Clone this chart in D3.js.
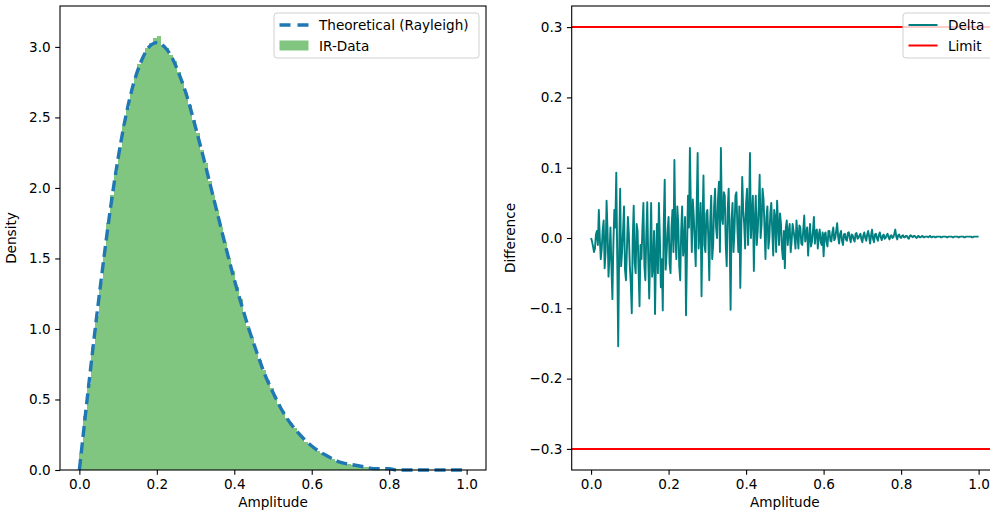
<!DOCTYPE html>
<html>
<head>
<meta charset="utf-8">
<script src="https://cdn.jsdelivr.net/npm/d3@7"></script>
<style>
  body { margin: 0; background: white; }
  svg { display: block; }
  text { font-family: "DejaVu Sans", sans-serif; }
</style>
</head>
<body>
<div id="container"></div>
<script>
// ---- data ----

// histogram bars (density), bins of 0.01 starting at amplitude 0
let binWidth = 0.01;
let histDensity = [0.12, 0.38, 0.61, 0.87, 1.09, 1.33, 1.53, 1.75, 1.95, 2.11,
  2.29, 2.44, 2.57, 2.70, 2.78, 2.88, 2.93, 2.99, 3.03, 3.06,
  3.08, 3.01, 2.99, 2.94, 2.90, 2.82, 2.76, 2.67, 2.59, 2.48,
  2.39, 2.27, 2.18, 2.05, 1.95, 1.84, 1.72, 1.62, 1.50, 1.41,
  1.30, 1.21, 1.11, 1.02, 0.94, 0.85, 0.78, 0.71, 0.64, 0.58,
  0.52, 0.47, 0.42, 0.37, 0.33, 0.30, 0.26, 0.23, 0.20, 0.18,
  0.156, 0.136, 0.119, 0.103, 0.089, 0.077, 0.066, 0.057, 0.049, 0.042,
  0.036, 0.030, 0.026, 0.022, 0.018, 0.015, 0.013, 0.010, 0.009, 0.007,
  0.006, 0.005, 0.004, 0.003, 0.002];

// theoretical curve, sampled every 0.02 of amplitude
let theoryStep = 0.02;
let theoryDensity = [0, 0.50, 0.98, 1.43, 1.85, 2.21, 2.51, 2.74, 2.90, 3.00,
  3.03, 3.00, 2.92, 2.79, 2.63, 2.43, 2.22, 2.00, 1.78, 1.56,
  1.35, 1.16, 0.98, 0.82, 0.67, 0.55, 0.44, 0.35, 0.28, 0.22,
  0.17, 0.13, 0.10, 0.07, 0.05, 0.04, 0.03, 0.02, 0.01, 0.01,
  0.01, 0, 0, 0, 0, 0, 0, 0, 0, 0, 0];

// delta between data and theory, sampled every 0.0025 of amplitude
let deltaStep = 0.0025;
let deltaValues = [
  0.000, -0.005, -0.012, -0.020, -0.015, 0.005, 0.010, -0.010, 0.040, 0.000,
  -0.030, -0.015, 0.012, 0.025, -0.043, -0.020, 0.053, 0.010, -0.055, -0.025,
  0.015, -0.040, -0.087, -0.010, 0.040, 0.015, 0.093, -0.030, -0.154, -0.020,
  0.070, -0.040, -0.020, 0.010, 0.045, -0.045, -0.060, -0.015, 0.030, 0.005,
  -0.040, -0.065, -0.107, 0.000, 0.046, -0.035, -0.050, 0.020, 0.010, -0.045,
  -0.097, -0.010, -0.030, 0.015, 0.050, -0.040, -0.060, 0.005, 0.051, -0.030,
  -0.086, -0.020, 0.050, -0.055, -0.040, 0.010, -0.108, -0.025, 0.020, -0.050,
  0.050, 0.000, -0.070, -0.030, -0.103, 0.020, 0.083, -0.045, -0.020, 0.010,
  0.030, -0.035, -0.050, 0.015, 0.040, -0.020, 0.111, 0.005, -0.030, 0.045,
  0.020, -0.040, -0.060, 0.010, 0.045, -0.025, -0.010, 0.030, -0.110, -0.020,
  0.060, 0.015, 0.128, 0.040, -0.020, 0.055, 0.030, -0.005, -0.040, 0.045,
  0.121, -0.015, 0.010, 0.050, -0.083, 0.020, 0.089, -0.010, -0.020, 0.035,
  0.040, 0.000, -0.060, 0.025, 0.060, -0.030, -0.010, 0.045, 0.070, 0.015,
  0.000, 0.055, 0.080, -0.020, 0.128, 0.030, 0.020, 0.065, 0.060, -0.010,
  -0.040, 0.040, 0.070, 0.005, -0.102, 0.025, 0.050, -0.020, 0.010, 0.060,
  0.065, 0.015, -0.020, 0.045, -0.071, 0.010, 0.087, 0.040, 0.020, -0.015,
  0.050, 0.070, -0.010, 0.030, 0.121, 0.000, 0.030, 0.060, -0.047, 0.025,
  0.060, -0.010, 0.010, 0.045, 0.090, 0.000, 0.020, 0.070, 0.055, 0.015,
  -0.030, 0.030, 0.045, -0.015, 0.000, 0.035, 0.050, 0.010, -0.025, 0.040,
  0.030, -0.020, 0.053, 0.020, -0.010, 0.035, 0.020, -0.015, -0.030, 0.010,
  -0.043, 0.015, 0.025, -0.010, 0.010, 0.020, -0.020, -0.005, 0.020, 0.010,
  0.000, -0.015, 0.025, 0.005, -0.015, 0.018, 0.015, -0.008, -0.010, 0.012,
  0.032, -0.005, 0.005, 0.015, -0.025, 0.000, 0.020, -0.012, -0.005, 0.010,
  0.030, -0.008, 0.010, 0.012, -0.015, 0.004, 0.012, -0.006, -0.010, 0.008,
  -0.026, 0.005, 0.008, -0.006, -0.012, 0.010, 0.010, -0.004, -0.005, 0.008,
  0.015, -0.003, 0.000, 0.010, 0.021, 0.002, -0.008, 0.006, 0.010, -0.004,
  -0.010, 0.005, 0.006, -0.002, -0.004, 0.007, 0.008, 0.000, -0.006, 0.005,
  0.004, -0.002, -0.005, 0.006, 0.007, -0.001, 0.000, 0.004, 0.006, -0.002,
  -0.006, 0.004, 0.008, 0.000, -0.004, 0.005, 0.010, 0.002, -0.008, 0.004,
  0.012, -0.001, -0.006, 0.005, 0.006, 0.000, -0.004, 0.004, 0.008, 0.001,
  -0.003, 0.003, 0.005, -0.001, 0.000, 0.004, 0.006, 0.001, -0.002, 0.003,
  0.004, 0.000, 0.001, 0.006, 0.012, 0.002, -0.002, 0.004, 0.005, 0.001,
  0.000, 0.003, 0.004, 0.001, 0.001, 0.003, 0.003, 0.000, -0.001, 0.003,
  0.004, 0.002, 0.001, 0.003, 0.003, 0.001, 0.000, 0.002, 0.003, 0.001,
  0.001, 0.002, 0.003, 0.001, 0.001, 0.002, 0.002, 0.002, 0.001, 0.002,
  0.003, 0.001, 0.001, 0.002, 0.002, 0.001, 0.001, 0.002, 0.002, 0.002,
  0.002, 0.001, 0.001, 0.002, 0.002, 0.002, 0.002, 0.001, 0.001, 0.002,
  0.002, 0.002, 0.002, 0.001, 0.001, 0.002, 0.002, 0.002, 0.002, 0.001,
  0.001, 0.002, 0.002, 0.002, 0.002, 0.001, 0.001, 0.002, 0.002, 0.002,
  0.002, 0.002, 0.002, 0.001, 0.001, 0.002, 0.002, 0.002, 0.002, 0.002,
  0.002];

let limitValues = [0.3, -0.3];
let xTicks = [0, 0.2, 0.4, 0.6, 0.8, 1.0];
let leftYTicks = [0, 0.5, 1.0, 1.5, 2.0, 2.5, 3.0];
let rightYTicks = [-0.3, -0.2, -0.1, 0, 0.1, 0.2, 0.3];
let leftYMax = 3.29;

// ---- layout ----
let w = 990;
let h = 516;
let fontSize = 13.6;
let tick = 4.8;

let viz = d3.select("#container")
  .append("svg")
  .attr("width", w)
  .attr("height", h);

function drawAxes(g, x, y, xt, yt, xLabel, yLabel, yLabelX) {
  let xr = x.range(), yr = y.range();
  let xa = g.append("g")
    .attr("transform", "translate(0," + yr[0] + ")")
    .call(d3.axisBottom(x).tickValues(xt).tickFormat(d3.format(".1f"))
      .tickSize(tick).tickPadding(4.5).tickSizeOuter(0));
  let ya = g.append("g")
    .attr("transform", "translate(" + xr[0] + ",0)")
    .call(d3.axisLeft(y).tickValues(yt).tickFormat(d3.format(".1f"))
      .tickSize(tick).tickPadding(4.5).tickSizeOuter(0));
  [xa, ya].forEach(function(a) {
    a.select(".domain").remove();
    a.selectAll("line").attr("stroke", "#000").attr("stroke-width", 1.1);
    a.selectAll("text")
      .attr("fill", "#000")
      .style("font-size", fontSize + "px")
      .style("font-family", "DejaVu Sans");
  });
  // frame
  g.append("rect")
    .attr("x", xr[0])
    .attr("y", yr[1])
    .attr("width", xr[1] - xr[0])
    .attr("height", yr[0] - yr[1])
    .attr("fill", "none")
    .attr("stroke", "#000")
    .attr("stroke-width", 1.1);

  g.append("text")
    .text(xLabel)
    .attr("x", (xr[0] + xr[1]) / 2)
    .attr("y", 507)
    .attr("text-anchor", "middle")
    .attr("font-size", fontSize + "px");
  g.append("text")
    .text(yLabel)
    .attr("transform", "translate(" + yLabelX + "," + ((yr[0] + yr[1]) / 2) + ") rotate(-90)")
    .attr("text-anchor", "middle")
    .attr("font-size", fontSize + "px");
}

function drawLegend(g, x0, x1, items) {
  g.append("rect")
    .attr("x", x0)
    .attr("y", 13)
    .attr("width", x1 - x0)
    .attr("height", 45)
    .attr("rx", 3)
    .attr("fill", "white")
    .attr("fill-opacity", 0.8)
    .attr("stroke", "#d0d0d0")
    .attr("stroke-width", 1);
  items.forEach(function(it, i) {
    let cy = 25 + i * 20.5;
    if (it.type == "patch") {
      g.append("rect")
        .attr("x", x0 + 5.5).attr("y", cy - 5)
        .attr("width", 29).attr("height", 10)
        .attr("fill", it.color).attr("fill-opacity", 0.6);
    } else {
      g.append("line")
        .attr("x1", x0 + 5.5).attr("x2", x0 + 34.5)
        .attr("y1", cy).attr("y2", cy)
        .attr("stroke", it.color)
        .attr("stroke-width", it.width)
        .attr("stroke-dasharray", it.dash || null);
    }
    g.append("text")
      .text(it.label)
      .attr("x", x0 + 45)
      .attr("y", cy + 5)
      .attr("font-size", fontSize + "px")
      .attr("fill", "#000");
  });
}

// ---- left panel: histogram + theoretical curve ----
let gL = viz.append("g");
let xL = d3.scaleLinear().domain([-0.05, 1.05]).range([60, 486]);
let yL = d3.scaleLinear().domain([0, leftYMax]).range([470, 6]);

let bars = gL.append("g").attr("opacity", 0.6);
bars.selectAll(".bar").data(histDensity).enter()
  .append("rect")
  .attr("class", "bar")
  .attr("x", function(d, i) { return xL(i * binWidth); })
  .attr("width", function(d, i) { return xL((i + 1) * binWidth) - xL(i * binWidth) + 0.5; })
  .attr("y", function(d) { return yL(d); })
  .attr("height", function(d) { return yL(0) - yL(d); })
  .attr("fill", "#2ca02c")
  .attr("shape-rendering", "crispEdges");

let theoryLine = d3.line()
  .x(function(d, i) { return xL(i * theoryStep); })
  .y(function(d) { return yL(d); })
  .curve(d3.curveMonotoneX);

gL.append("path")
  .datum(theoryDensity)
  .attr("d", theoryLine)
  .attr("fill", "none")
  .attr("stroke", "#1f77b4")
  .attr("stroke-width", 3.4)
  .attr("stroke-dasharray", "11,5.5");

drawAxes(gL, xL, yL, xTicks, leftYTicks, "Amplitude", "Density", 16);
drawLegend(gL, 274, 479, [
  { type: "line", label: "Theoretical (Rayleigh)", color: "#1f77b4", width: 3.4, dash: "11,7" },
  { type: "patch", label: "IR-Data", color: "#2ca02c" }
]);

// ---- right panel: delta + limits ----
let gR = viz.append("g");
let xR = d3.scaleLinear().domain([-0.05, 1.05]).range([571.7, 998]);
let yR = d3.scaleLinear().domain([-0.33, 0.33]).range([470, 6]);

let deltaLine = d3.line()
  .x(function(d, i) { return xR(i * deltaStep); })
  .y(function(d) { return yR(d); });

gR.append("path")
  .datum(deltaValues)
  .attr("d", deltaLine)
  .attr("fill", "none")
  .attr("stroke", "#008080")
  .attr("stroke-width", 1.9)
  .attr("stroke-linejoin", "round");

gR.selectAll(".limit").data(limitValues).enter()
  .append("line")
  .attr("class", "limit")
  .attr("x1", xR.range()[0])
  .attr("x2", xR.range()[1])
  .attr("y1", function(d) { return yR(d); })
  .attr("y2", function(d) { return yR(d); })
  .attr("stroke", "red")
  .attr("stroke-width", 2);

drawAxes(gR, xR, yR, xTicks, rightYTicks, "Amplitude", "Difference", 515);
drawLegend(gR, 903, 1010, [
  { type: "line", label: "Delta", color: "#008080", width: 2 },
  { type: "line", label: "Limit", color: "red", width: 2 }
]);
</script>
</body>
</html>
